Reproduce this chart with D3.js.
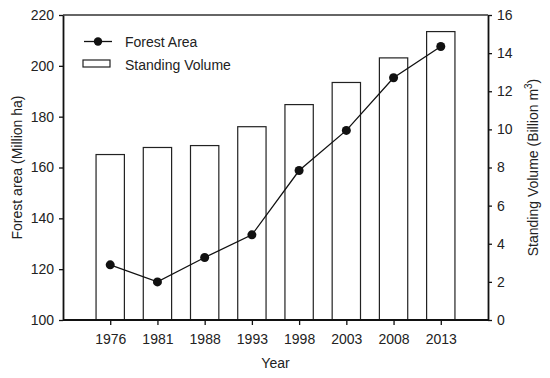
<!DOCTYPE html>
<html>
<head>
<meta charset="utf-8">
<script src="https://cdn.jsdelivr.net/npm/d3@7"></script>
<style>
  body { margin: 0; background: #fff; }
  text { font-family: Arial, "Liberation Sans", sans-serif; fill: #222; }
</style>
</head>
<body>
<script>
const years = ["1976","1981","1988","1993","1998","2003","2008","2013"];
const forestArea = [121.7, 115.0, 124.6, 133.5, 158.8, 174.6, 195.3, 207.6];
const standingVolume = [8.68, 9.05, 9.15, 10.14, 11.3, 12.46, 13.75, 15.13];
const leftTicks = [100, 120, 140, 160, 180, 200, 220];
const rightTicks = [0, 2, 4, 6, 8, 10, 12, 14, 16];

const W = 550, H = 378;
const margin = { top: 15, left: 63, bottom: 58, right: 62 };
const width = W - margin.left - margin.right,
      height = H - margin.top - margin.bottom;
const fs = "14px";

const svg = d3.select("body").append("svg")
  .attr("width", W).attr("height", H);
const g = svg.append("g").attr("transform", `translate(${margin.left},${margin.top})`);

const x = d3.scalePoint().domain(years).range([0, width]).padding(1);
const yL = d3.scaleLinear().domain([100, 220]).range([height, 0]);
const yR = d3.scaleLinear().domain([0, 16]).range([height, 0]);
const barW = x.step() * 0.6;

// bars
g.selectAll("rect.bar").data(years).join("rect")
  .attr("class", "bar")
  .attr("x", d => x(d) - barW / 2)
  .attr("y", (d, i) => yR(standingVolume[i]))
  .attr("width", barW)
  .attr("height", (d, i) => height - yR(standingVolume[i]))
  .attr("fill", "#fff").attr("stroke", "#222").attr("stroke-width", 1.2);

// line
const line = d3.line().x((d, i) => x(years[i])).y(d => yL(d));
g.append("path").datum(forestArea)
  .attr("d", line).attr("fill", "none")
  .attr("stroke", "#111").attr("stroke-width", 1.3);
g.selectAll("circle.pt").data(forestArea).join("circle")
  .attr("class", "pt")
  .attr("cx", (d, i) => x(years[i])).attr("cy", d => yL(d))
  .attr("r", 4.5).attr("fill", "#111");

// top border
g.append("line").attr("x1", 0).attr("x2", width).attr("y1", 0).attr("y2", 0)
  .attr("stroke", "#333").attr("stroke-width", 1.3);

function styleAxis(sel) {
  sel.selectAll("path").attr("stroke", "#111").attr("stroke-width", 1.8);
  sel.selectAll("line").attr("stroke", "#111").attr("stroke-width", 1.3);
  sel.selectAll("text").style("font-size", fs).attr("fill", "#222");
}

g.append("g").attr("transform", `translate(0,${height})`)
  .call(d3.axisBottom(x).tickSize(5).tickSizeOuter(0).tickPadding(9))
  .call(styleAxis)
  .call(s => s.select(".domain").attr("d", `M0,0H${width}`));

g.append("g")
  .call(d3.axisLeft(yL).tickValues(leftTicks).tickSize(4).tickSizeOuter(0).tickPadding(5))
  .call(styleAxis);

g.append("g").attr("transform", `translate(${width},0)`)
  .call(d3.axisRight(yR).tickValues(rightTicks).tickSize(4).tickSizeOuter(0).tickPadding(5))
  .call(styleAxis);

// axis titles
svg.append("text").attr("x", margin.left + width / 2).attr("y", 368)
  .attr("text-anchor", "middle").style("font-size", fs).text("Year");

svg.append("text")
  .attr("transform", `translate(22,${margin.top + height / 2}) rotate(-90)`)
  .attr("text-anchor", "middle").style("font-size", fs).text("Forest area (Million ha)");

const rt = svg.append("text")
  .attr("transform", `translate(538,${margin.top + height / 2}) rotate(-90)`)
  .attr("text-anchor", "middle").style("font-size", fs);
rt.append("tspan").text("Standing Volume (Billion m");
rt.append("tspan").attr("dy", -6).style("font-size", "10px").text("3");
rt.append("tspan").attr("dy", 6).text(")");

// legend
const lg = svg.append("g");
lg.append("line").attr("x1", 84).attr("x2", 112).attr("y1", 41.5).attr("y2", 41.5)
  .attr("stroke", "#111").attr("stroke-width", 1.3);
lg.append("circle").attr("cx", 98).attr("cy", 41.5).attr("r", 4.2).attr("fill", "#111");
lg.append("text").attr("x", 125).attr("y", 46.5).style("font-size", fs).text("Forest Area");
lg.append("rect").attr("x", 83).attr("y", 60).attr("width", 27).attr("height", 7)
  .attr("fill", "#fff").attr("stroke", "#222").attr("stroke-width", 1.2);
lg.append("text").attr("x", 125).attr("y", 69.5).style("font-size", fs).text("Standing Volume");
</script>
</body>
</html>
